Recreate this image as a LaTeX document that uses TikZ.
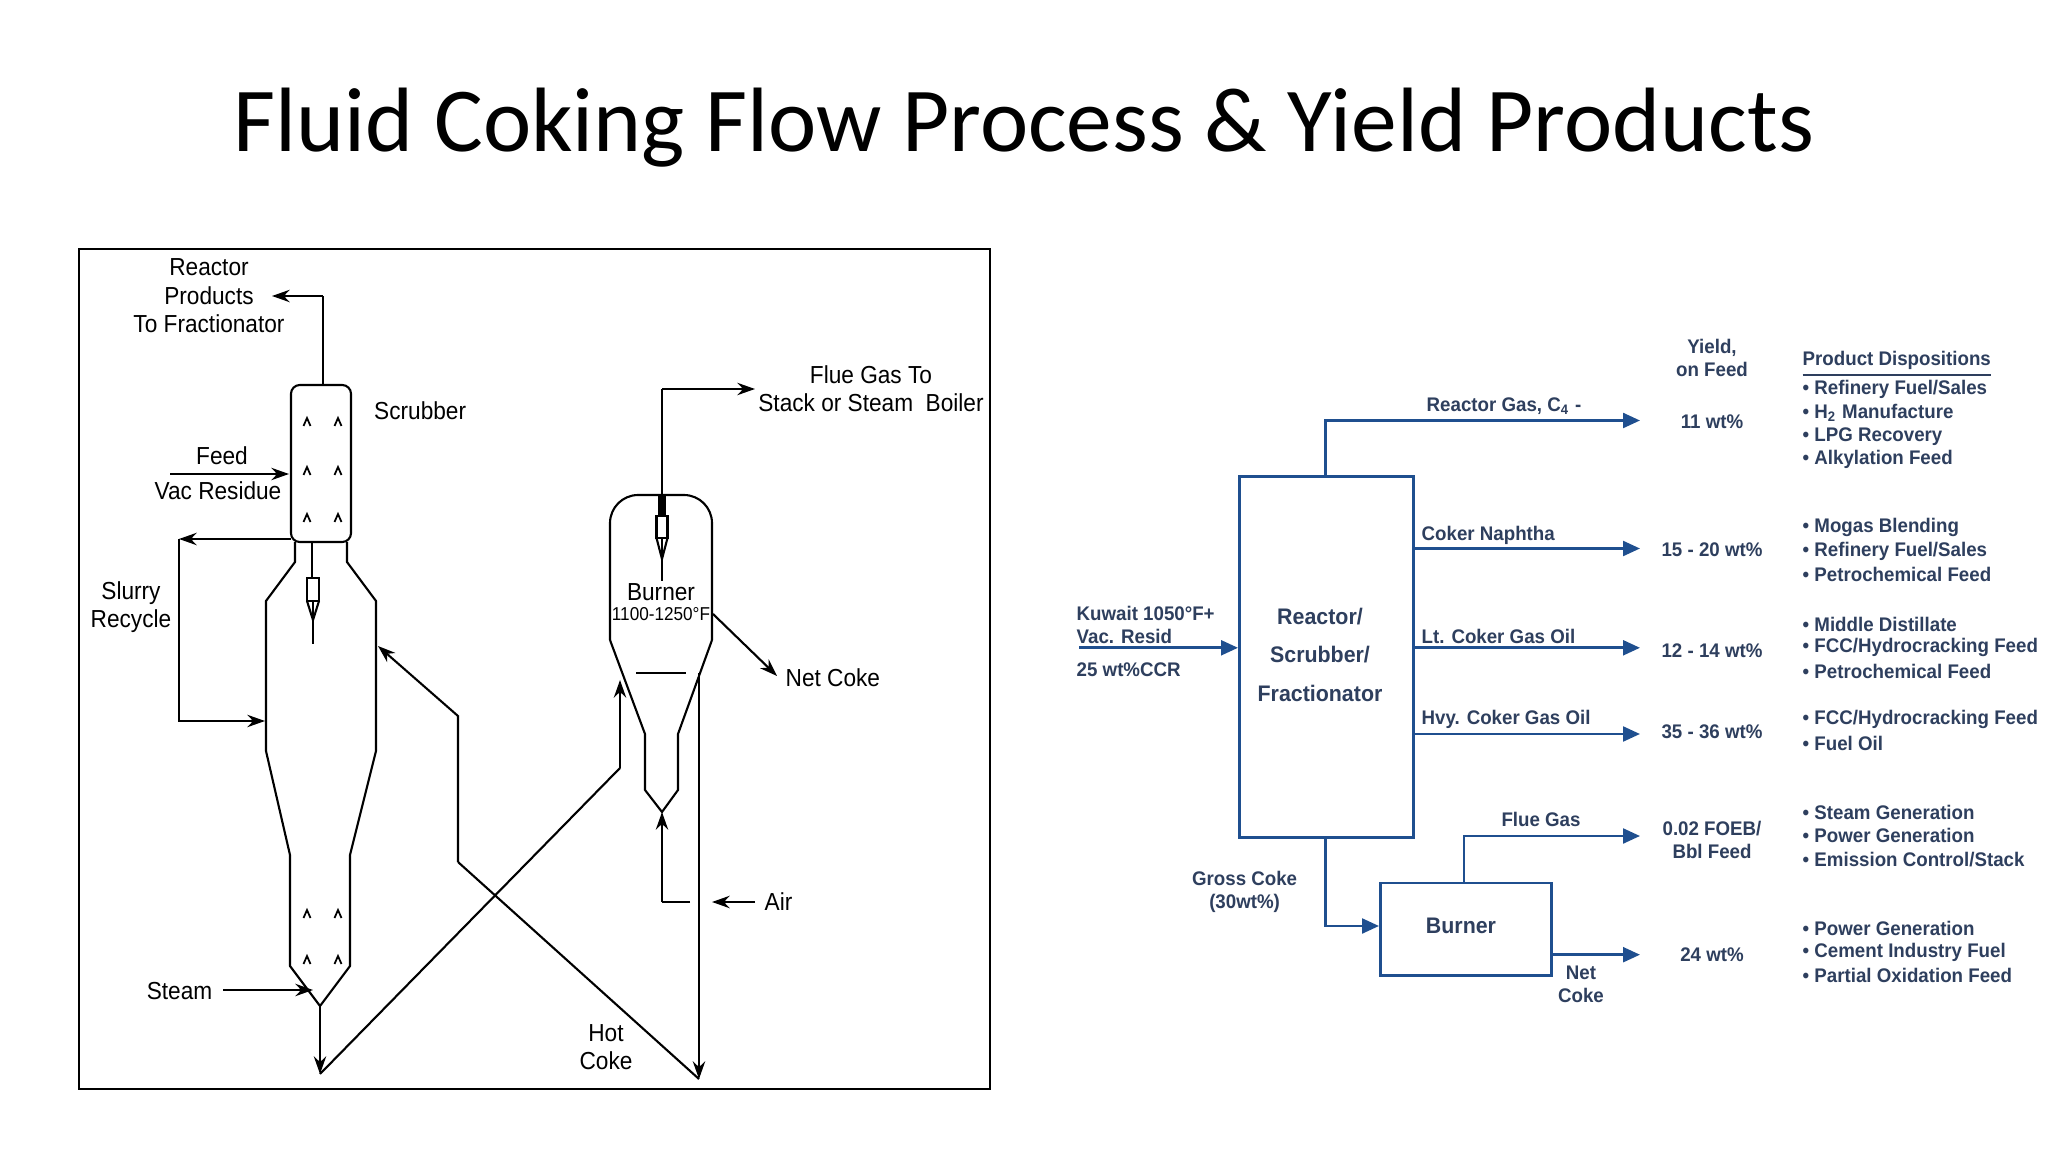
\documentclass[tikz,border=0pt]{standalone}
\usepackage{fontspec}
\setmainfont{Carlito}
\newfontfamily\lfont[FakeStretch=0.92]{Liberation Sans}
\newfontfamily\rfont[FakeStretch=0.95]{Liberation Sans}
\usetikzlibrary{arrows.meta}
\definecolor{pblue}{HTML}{1F4F8F}
\definecolor{ptext}{HTML}{2E3F5E}
\tikzset{
  ln/.style={line width=0.6pt,black},
  la/.style={ln,-{Stealth[length=5pt,width=3.5pt]}},
  lt/.style={font=\lfont\fontsize{7}{8.6}\selectfont,inner sep=0pt,align=center},
  rl/.style={line width=0.75pt,pblue},
  ra/.style={rl,-{Triangle[length=4.8pt,width=4.2pt]}},
  rt/.style={font=\rfont\bfseries\fontsize{5.6}{6.6}\selectfont,text=ptext,inner sep=0pt,align=center},
  rb/.style={font=\rfont\bfseries\fontsize{6.4}{7.5}\selectfont,text=ptext,inner sep=0pt},
  dl/.style={rt,anchor=west},
  chev/.style={line width=0.5pt}
}
\begin{document}
\begin{tikzpicture}[x=0.01cm,y=-0.01cm]
\useasboundingbox (0,0) rectangle (2048,1152);
\fill[white] (0,0) rectangle (2048,1152);
\node[font=\fontsize{26}{31}\selectfont,anchor=base,inner sep=0pt] (title) at (1024,152) {Fluid Coking Flow Process \& Yield Products};
% ---------- left diagram ----------
\draw[line width=0.8pt] (79,249) rectangle (990,1089);
% scrubber
\draw[ln,rounded corners=2.5pt] (291,385) rectangle (351,542);
\foreach \x in {307,338}{\foreach \y in {422,471,518,914,960}{
  \draw[chev] (\x-3.5,\y+4)--(\x,\y-4)--(\x+3.5,\y+4);}}
% reactor
\draw[ln] (295,542)--(295,562)--(266,601)--(266,751)--(290,855)--(290,966)--(320,1006)--(350,966)--(350,855)--(376,751)--(376,601)--(347,562)--(347,542);
% reactor nozzle
\draw[ln] (312,542)--(312,578);
\draw[ln] (307,578) rectangle (319,601);
\draw[ln] (307,601)--(313,620)--(319,601);
\draw[ln] (313,601)--(313,644);
% burner
\draw[ln,rounded corners=8pt] (610,640)--(610,495)--(712,495)--(712,640);
\draw[ln] (610,640)--(645,734)--(645,790)--(662,812)--(678,790)--(678,734)--(712,640);
\draw[ln] (636,673)--(686,673);
\draw[line width=2pt] (662,495)--(662,516);
\draw[ln] (656.5,516) rectangle (667.5,538);
\draw[ln] (656.5,538)--(662,559)--(667.5,538);
\draw[ln] (662,538)--(662,581);
% reactor products
\coordinate (rtop) at (322.6,385);
\coordinate (rpa) at (322.6,296);
\coordinate (rpe) at (272,296);
\draw[ln] (rtop)--(rpa);
\draw[la] (rpa)--(rpe);
\node[lt] (rp) at (209,296) {Reactor\\[-0.5pt]Products\\[-0.5pt]To Fractionator};
\node[lt,anchor=west] (scr) at (373.5,411) {Scrubber};
% feed
\coordinate (fs) at (170,474);
\coordinate (fe) at (289,474);
\draw[la] (fs)--(fe);
\node[lt] (feed) at (222,456) {Feed};
\node[lt] (vac) at (218,491) {Vac Residue};
% slurry
\coordinate (s1) at (291,539);
\coordinate (s2) at (179,539);
\coordinate (s3) at (179,721);
\coordinate (s4) at (265,721);
\draw[la] (s1)--(s2);
\draw[la] (s2)--(s3)--(s4);
\node[lt] (slurry) at (131,607) {Slurry\\[-0.5pt]Recycle};
% steam
\coordinate (st1) at (223,990);
\coordinate (st2) at (313,990);
\draw[la] (st1)--(st2);
\node[lt,anchor=east] (steam) at (213,991) {Steam};
% bottom outlet
\coordinate (rb) at (320,1006);
\coordinate (bot1) at (320,1074);
\draw[la] (rb)--(bot1);
\coordinate (c1) at (620,768);
\coordinate (c2) at (620,680);
\draw[ln] (bot1)--(c1);
\draw[la] (c1)--(c2);
% hot coke return
\coordinate (h1) at (699,1079);
\coordinate (h2) at (458,862);
\coordinate (h3) at (458,716);
\coordinate (h4) at (378,646);
\draw[la] (h2)--(h3)--(h4);
\draw[ln] (h1)--(h2);
\coordinate (v1) at (699,673);
\draw[la] (v1)--(h1);
\node[lt] (hot) at (606,1047) {Hot\\[-0.5pt]Coke};
% flue gas
\coordinate (fg1) at (662,495);
\coordinate (fg2) at (662,389);
\coordinate (fg3) at (755,389);
\draw[ln] (fg1)--(fg2);
\draw[la] (fg2)--(fg3);
\node[lt] (flue) at (871,388.5) {Flue Gas To\\[-0.5pt]Stack or Steam\ \ Boiler};
% net coke
\coordinate (nc1) at (713,614);
\coordinate (nc2) at (777,676);
\draw[la] (nc1)--(nc2);
\node[lt,anchor=west] (netc) at (785,678) {Net Coke};
\node[lt] (burn) at (661,592) {Burner};
\node[lt,font=\lfont\fontsize{5.3}{7}\selectfont] (temp) at (661,614) {1100-1250°F};
% air
\coordinate (a1) at (755,902);
\coordinate (a2) at (712,902);
\draw[la] (a1)--(a2);
\node[lt,anchor=west] (air) at (764,902) {Air};
\coordinate (ab) at (690,902);
\coordinate (ac) at (662,902);
\coordinate (at) at (662,812);
\draw[ln] (ab)--(ac);
\draw[la] (ac)--(at);
% ---------- right diagram ----------
\node[rl,draw,minimum width=174*0.2845pt,minimum height=361*0.2845pt,inner sep=0pt,anchor=north west] (box) at (1238,475) {};
\node[rb] (b1) at (1320,616.4) {Reactor/};
\node[rb] (b2) at (1320,654.3) {Scrubber/};
\node[rb] (b3) at (1320,693.5) {Fractionator};
\node[rl,draw,minimum width=171*0.2845pt,minimum height=92.5*0.2845pt,inner sep=0pt,anchor=north west] (burner) at (1379,881.5) {};
\node[rb] (bt) at (1461,926) {Burner};
% feed
\coordinate (kf) at (1079,647.8);
\draw[ra] (kf)--(box.west|-kf);
\node[dl] (k1) at (1076,613) {Kuwait 1050°F+};
\node[dl] (k2) at (1076,636) {Vac. Resid};
\node[dl] (k3) at (1076,670) {25 wt\%CCR};
% outputs
\coordinate (g1) at (1325.6,475);
\coordinate (g2) at (1325.6,420.5);
\coordinate (g3) at (1640,420.5);
\draw[ra] (g1)--(g2)--(g3);
\node[rt] (gl) at (1504,406) {Reactor Gas, C\textsubscript{4} -};
\coordinate (n3) at (1640,548.5);
\draw[ra] (box.east|-n3)--(n3);
\node[dl] (nl) at (1421,535.5) {Coker Naphtha};
\coordinate (l3) at (1640,647.8);
\draw[ra] (box.east|-l3)--(l3);
\node[dl] (ll) at (1421,636) {Lt. Coker Gas Oil};
\coordinate (hh3) at (1640,734);
\draw[ra] (box.east|-hh3)--(hh3);
\node[dl] (hl) at (1421,719.6) {Hvy. Coker Gas Oil};
% gross coke
\coordinate (gc1) at (1325.6,836);
\coordinate (gc2) at (1325.6,926);
\draw[ra] (gc1)--(gc2)--(burner.west|-gc2);
\node[rt] (gcl) at (1244.6,892) {Gross Coke\\(30wt\%)};
% flue gas
\coordinate (fb1) at (1464,881.5);
\coordinate (fb2) at (1464,836);
\coordinate (fb3) at (1640,836);
\draw[ra] (fb1)--(fb2)--(fb3);
\node[rt] (fbl) at (1541,819) {Flue Gas};
% net coke
\coordinate (nk3) at (1640,954.7);
\draw[ra] (burner.east|-nk3)--(nk3);
\node[rt] (nkl) at (1581,984) {Net\\Coke};
% yields
\node[rt] (y0) at (1712,358) {Yield,\\on Feed};
\node[rt] (y1) at (1712,421.8) {11 wt\%};
\node[rt] (y2) at (1712,549.8) {15 - 20 wt\%};
\node[rt] (y3) at (1712,650.4) {12 - 14 wt\%};
\node[rt] (y4) at (1712,731.4) {35 - 36 wt\%};
\node[rt] (y5) at (1712,840) {0.02 FOEB/\\Bbl Feed};
\node[rt] (y6) at (1712,954.7) {24 wt\%};
% dispositions
\node[dl] (d0) at (1802,364.4) {\underline{Product Dispositions}};
\node[dl] (d1) at (1802,389.2) {• Refinery Fuel/Sales};
\node[dl] (d2) at (1802,412.7) {• H\textsubscript{2} Manufacture};
\node[dl] (d3) at (1802,436.2) {• LPG Recovery};
\node[dl] (d4) at (1802,459.7) {• Alkylation Feed};
\node[dl] (d5) at (1802,527.6) {• Mogas Blending};
\node[dl] (d6) at (1802,551.1) {• Refinery Fuel/Sales};
\node[dl] (d7) at (1802,574.6) {• Petrochemical Feed};
\node[dl] (d8) at (1802,624.3) {• Middle Distillate};
\node[dl] (d9) at (1802,647.8) {• FCC/Hydrocracking Feed};
\node[dl] (d10) at (1802,671.3) {• Petrochemical Feed};
\node[dl] (d11) at (1802,719.6) {• FCC/Hydrocracking Feed};
\node[dl] (d12) at (1802,743.1) {• Fuel Oil};
\node[dl] (d13) at (1802,812.3) {• Steam Generation};
\node[dl] (d14) at (1802,835.8) {• Power Generation};
\node[dl] (d15) at (1802,859.3) {• Emission Control/Stack};
\node[dl] (d16) at (1802,928.6) {• Power Generation};
\node[dl] (d17) at (1802,952) {• Cement Industry Fuel};
\node[dl] (d18) at (1802,975.6) {• Partial Oxidation Feed};
\end{tikzpicture}
\end{document}
